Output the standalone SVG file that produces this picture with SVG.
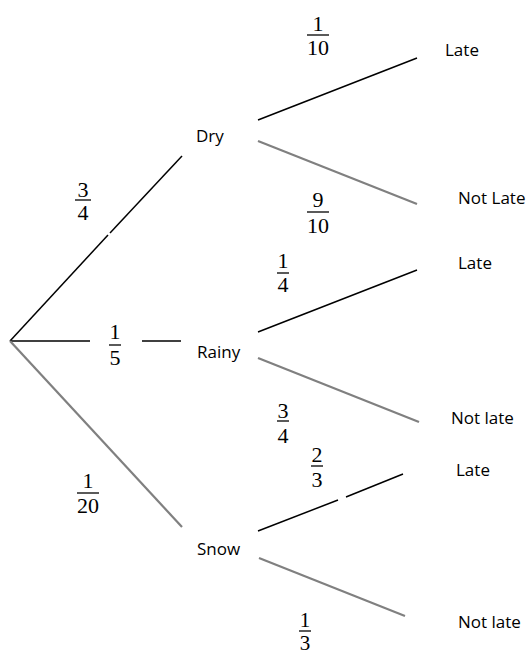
<svg xmlns="http://www.w3.org/2000/svg" width="529" height="655" viewBox="0 0 529 655">
<style>
.lbl{font-family:"Open Sans","Noto Sans","Liberation Sans",sans-serif;font-size:17px;fill:#000}
.frac{font-family:"Liberation Serif","DejaVu Serif",serif;font-size:22px;fill:#000;text-anchor:middle}
.blk{stroke:#000;stroke-width:1.5;fill:none}
.gry{stroke:#808080;stroke-width:2.2;fill:none}
.bar{stroke:#000;stroke-width:1.3}
</style>
<rect width="529" height="655" fill="#fff"/>
<g id="connectors">
  <g id="e-root-dry">
    <line class="blk" x1="10" y1="341" x2="108" y2="235"/>
    <line class="blk" x1="110" y1="233" x2="182" y2="156"/>
    <text class="frac" x="83" y="197">3</text><line class="bar" x1="75" y1="200" x2="91" y2="200"/><text class="frac" x="83" y="220">4</text>
  </g>
  <g id="e-root-rainy">
    <line class="blk" x1="10" y1="341" x2="90" y2="341"/>
    <line class="blk" x1="142" y1="341" x2="181" y2="341"/>
    <text class="frac" x="115" y="339">1</text><line class="bar" x1="109" y1="345" x2="121" y2="345"/><text class="frac" x="115" y="365">5</text>
  </g>
  <g id="e-root-snow">
    <line class="gry" x1="10" y1="341" x2="182" y2="527"/>
    <text class="frac" x="88" y="488">1</text><line class="bar" x1="77" y1="493" x2="99" y2="493"/><text class="frac" x="88" y="513">20</text>
  </g>
  <g id="e-dry-late">
    <line class="blk" x1="258" y1="120" x2="417" y2="58"/>
    <text class="frac" x="318" y="31">1</text><line class="bar" x1="307" y1="35" x2="329" y2="35"/><text class="frac" x="318" y="55">10</text>
  </g>
  <g id="e-dry-notlate">
    <line class="gry" x1="258" y1="141" x2="417" y2="204"/>
    <text class="frac" x="318" y="207">9</text><line class="bar" x1="307" y1="212" x2="329" y2="212"/><text class="frac" x="318" y="233">10</text>
  </g>
  <g id="e-rainy-late">
    <line class="blk" x1="258" y1="332" x2="417" y2="270"/>
    <text class="frac" x="283" y="268">1</text><line class="bar" x1="277" y1="273" x2="289" y2="273"/><text class="frac" x="283" y="292">4</text>
  </g>
  <g id="e-rainy-notlate">
    <line class="gry" x1="258" y1="358" x2="419" y2="422"/>
    <text class="frac" x="283" y="418">3</text><line class="bar" x1="277" y1="421" x2="289" y2="421"/><text class="frac" x="283" y="443">4</text>
  </g>
  <g id="e-snow-late">
    <line class="blk" x1="258" y1="531" x2="338" y2="500"/>
    <line class="blk" x1="346" y1="497" x2="403" y2="474"/>
    <text class="frac" x="317" y="462">2</text><line class="bar" x1="311" y1="466" x2="323" y2="466"/><text class="frac" x="317" y="487">3</text>
  </g>
  <g id="e-snow-notlate">
    <line class="gry" x1="259" y1="558" x2="405" y2="616"/>
    <text class="frac" x="305" y="627" style="font-size:21px">1</text><line class="bar" x1="299" y1="631" x2="311" y2="631"/><text class="frac" x="305" y="650" style="font-size:21px">3</text>
  </g>
</g>
<g id="n-dry"><text class="lbl" x="196" y="142">Dry</text></g>
<g id="n-rainy"><text class="lbl" x="197" y="358">Rainy</text></g>
<g id="n-snow"><text class="lbl" x="197" y="555">Snow</text></g>
<g id="n-dry-late"><text class="lbl" x="445" y="56">Late</text></g>
<g id="n-dry-notlate"><text class="lbl" x="458" y="204">Not Late</text></g>
<g id="n-rainy-late"><text class="lbl" x="458" y="269">Late</text></g>
<g id="n-rainy-notlate"><text class="lbl" x="451" y="424">Not late</text></g>
<g id="n-snow-late"><text class="lbl" x="456" y="476">Late</text></g>
<g id="n-snow-notlate"><text class="lbl" x="458" y="628">Not late</text></g>
</svg>
